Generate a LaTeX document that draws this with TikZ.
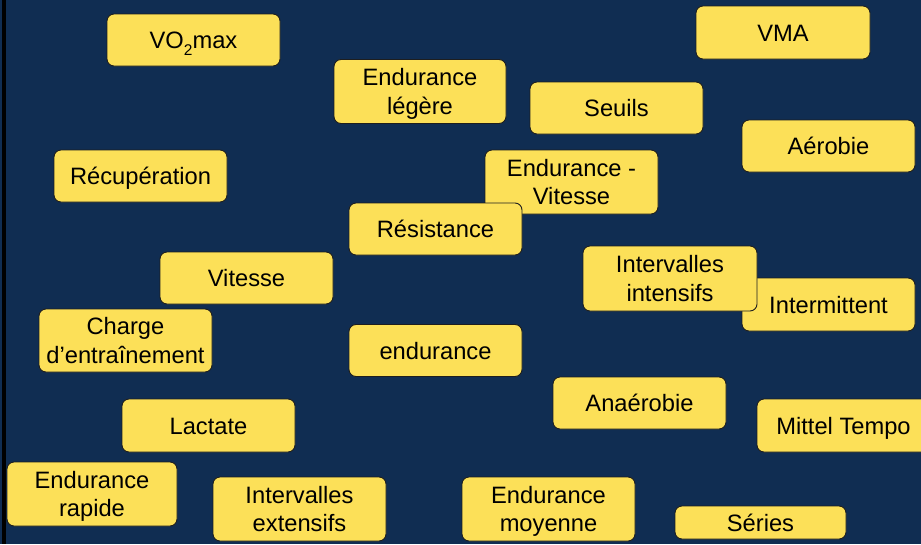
\documentclass[tikz,border=0pt]{standalone}
\usepackage{fontspec}
\setmainfont{Liberation Sans}
\definecolor{bgnavy}{RGB}{16,45,82}
\definecolor{boxyellow}{RGB}{252,224,88}
\definecolor{boxedge}{RGB}{30,30,30}
\newcommand\twoline[2]{\begin{tabular}[b]{@{}c@{}}#1\\#2\end{tabular}}
\newcommand\lowtwo{\raisebox{-6.5pt}{\fontsize{15.5}{15.5}\selectfont 2}}
\tikzset{
  box/.style={draw=boxedge, line width=0.9pt, fill=boxyellow, rounded corners=7pt,
    inner sep=0pt, text=black, font=\fontsize{23.7}{28.6}\selectfont},
  sz/.style 2 args={minimum width=#1pt, minimum height=#2pt},
  oneline/.style={text height=17pt, text depth=0pt},
  twolines/.style={text height=45.6pt, text depth=0pt},
}
\begin{document}
\begin{tikzpicture}[x=1pt,y=-1pt]
\useasboundingbox (0,0) rectangle (921,544);
\fill[bgnavy] (0,0) rectangle (921,544);
\fill[black] (2,0) rectangle (6,544);

\node[box,oneline,sz={173}{52}] (vo2) at (193.5,40) {VO\lowtwo max};
\node[box,twolines,sz={172}{64}] (legere) at (420,91.5) {\twoline{Endurance}{légère}};
\node[box,oneline,sz={174}{53}] (vma) at (783,32.5) {VMA};
\node[box,oneline,sz={173}{52}] (seuils) at (616.5,108) {Seuils};
\node[box,oneline,sz={173}{52}] (aerobie) at (828.5,146) {Aérobie};
\node[box,oneline,sz={173}{52}] (recup) at (140.5,176) {Récupération};
\node[box,twolines,sz={173}{64}] (endvit) at (571.5,182) {\twoline{Endurance -}{Vitesse}};
\node[box,oneline,sz={173}{52}] (resist) at (435.5,229) {Résistance};
\node[box,oneline,sz={173}{53}] (intermit) at (828.5,304.5) {Intermittent};
\node[box,twolines,sz={174}{65}] (intint) at (670,278.5) {\twoline{Intervalles}{intensifs}};
\node[box,oneline,sz={173}{52}] (vitesse) at (246.5,278) {Vitesse};
\node[box,twolines,sz={173}{63}] (charge) at (125.5,340.5) {\twoline{Charge}{d’entraînement}};
\node[box,oneline,sz={173}{52}] (endur) at (435.5,350.5) {endurance};
\node[box,oneline,sz={173}{52}] (anaer) at (639.5,403) {Anaérobie};
\node[box,oneline,sz={173}{53}] (mittel) at (843.5,425.5) {Mittel Tempo};
\node[box,oneline,sz={173}{53}] (lactate) at (208.5,425.5) {Lactate};
\node[box,twolines,sz={170}{64}] (rapide) at (92,494) {\twoline{Endurance}{rapide}};
\node[box,twolines,sz={173}{64}] (intext) at (299.5,509) {\twoline{Intervalles}{extensifs}};
\node[box,twolines,sz={173}{64}] (moyenne) at (548.5,509) {\twoline{Endurance}{moyenne}};
\node[box,oneline,sz={171}{33}] (series) at (760.5,522.5) {Séries};
\end{tikzpicture}
\end{document}
